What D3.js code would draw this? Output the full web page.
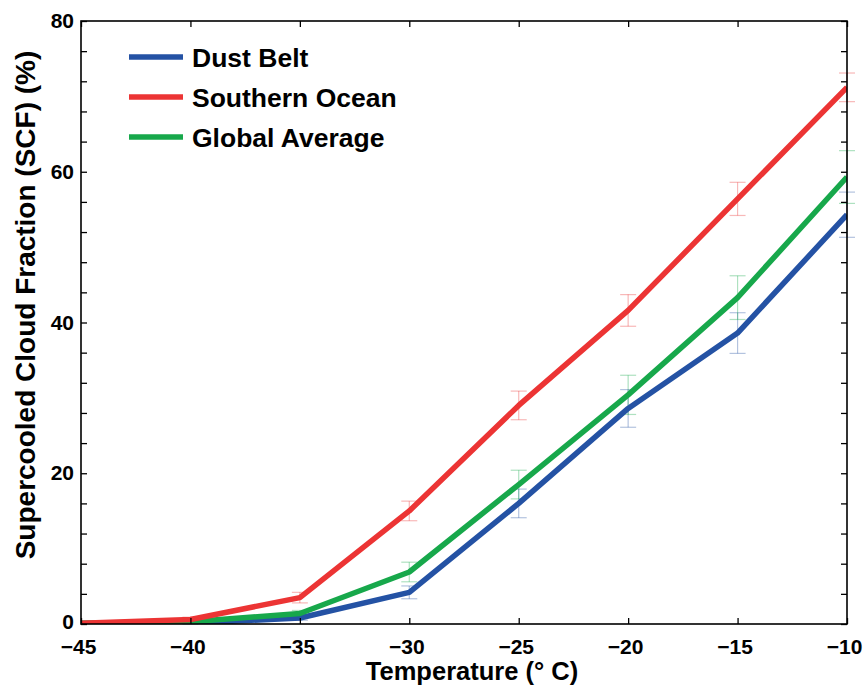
<!DOCTYPE html>
<html><head><meta charset="utf-8">
<script src="https://cdn.jsdelivr.net/npm/d3@7"></script>
<style>body{margin:0;background:#fff}text{font-family:"Liberation Sans",Arial,sans-serif;font-weight:bold}</style>
</head><body><svg id="c" width="866" height="688"></svg>
<script>
const temps = [-45, -40, -35, -30, -25, -20, -15, -10];
const dustBelt = [0.05, 0.1, 0.8, 4.2, 16.0, 28.6, 38.6, 54.3];
const southernOcean = [0.1, 0.6, 3.5, 15.0, 29.0, 41.6, 56.4, 71.2];
const globalAverage = [0.1, 0.3, 1.4, 6.9, 18.5, 30.4, 43.3, 59.3];
const dustErr = [0, 0.1, 0.3, 0.85, 1.9, 2.5, 2.7, 3.0];
const southernErr = [0, 0.3, 0.7, 1.3, 1.9, 2.1, 2.2, 1.9];
const globalErr = [0, 0.1, 0.4, 1.3, 1.9, 2.6, 2.9, 3.5];
const seriesNames = ["Dust Belt", "Southern Ocean", "Global Average"];
const xTicks = [-45, -40, -35, -30, -25, -20, -15, -10];
const yLabelTicks = [0, 20, 40, 60, 80];

const colors = ["#2452a4", "#ec3434", "#17a84b"];
const series = [
  {name: seriesNames[0], vals: dustBelt, err: dustErr, color: colors[0]},
  {name: seriesNames[1], vals: southernOcean, err: southernErr, color: colors[1]},
  {name: seriesNames[2], vals: globalAverage, err: globalErr, color: colors[2]}
];

const svg = d3.select("#c");
const L = 81, R = 847, T = 21, B = 624;
const x = d3.scaleLinear().domain([-45, -10]).range([L, R]);
const y = d3.scaleLinear().domain([0, 80]).range([B, T]);
const yMinor = d3.range(0, 81, 4);

// error bars (behind)
const eb = svg.append("g");
series.forEach(s => {
  temps.forEach((t, i) => {
    if (s.err[i] <= 0) return;
    const cx = x(t), y1 = y(s.vals[i] + s.err[i]), y2 = y(s.vals[i] - s.err[i]);
    const g = eb.append("g").attr("stroke", s.color).attr("stroke-opacity", 0.35).attr("stroke-width", 1.2);
    g.append("line").attr("x1", cx).attr("x2", cx).attr("y1", y1).attr("y2", y2);
    g.append("line").attr("x1", cx - 8).attr("x2", cx + 8).attr("y1", y1).attr("y2", y1);
    g.append("line").attr("x1", cx - 8).attr("x2", cx + 8).attr("y1", y2).attr("y2", y2);
  });
});

// lines
const line = d3.line().x((d, i) => x(temps[i])).y(d => y(d));
svg.append("defs").append("clipPath").attr("id", "clip").append("rect")
  .attr("x", L).attr("y", T - 5).attr("width", R - L).attr("height", B - T + 5);
const lg = svg.append("g").attr("clip-path", "url(#clip)");
[series[0], series[2], series[1]].forEach(s => {
  lg.append("path").datum(s.vals).attr("d", line).attr("fill", "none")
    .attr("stroke", s.color).attr("stroke-width", 5.5).attr("stroke-linejoin", "round");
});

// axes
const tickLen = 6;
const axB = svg.append("g").attr("transform", `translate(0,${B})`)
  .call(d3.axisBottom(x).tickValues(xTicks).tickSizeInner(-tickLen).tickSizeOuter(0).tickPadding(15)
    .tickFormat(d => d3.format("")(d).replace("-", "\u2212")));
const axT = svg.append("g").attr("transform", `translate(0,${T})`)
  .call(d3.axisTop(x).tickValues(xTicks).tickSizeInner(-tickLen).tickSizeOuter(0).tickFormat(""));
const axL = svg.append("g").attr("transform", `translate(${L},0)`)
  .call(d3.axisLeft(y).tickValues(yMinor).tickSizeInner(-tickLen).tickSizeOuter(0).tickPadding(7)
    .tickFormat(d => yLabelTicks.includes(d) ? d : ""));
const axR = svg.append("g").attr("transform", `translate(${R},0)`)
  .call(d3.axisRight(y).tickValues(yMinor).tickSizeInner(-tickLen).tickSizeOuter(0).tickFormat(""));
[axB, axT, axL, axR].forEach(a => {
  a.select(".domain").remove();
  a.selectAll("line").attr("stroke", "#000").attr("stroke-width", 1.3);
  a.selectAll("text").attr("font-size", 21).attr("fill", "#000")
    .style("font-family", "'Liberation Sans',Arial,sans-serif").style("font-weight", "bold");
});
axB.selectAll("text").attr("dy", "0.71em").attr("dx", "-3");
axL.selectAll(".tick").filter(d => d === 0).select("text").attr("dy", "0.2em");
svg.append("rect").attr("x", L).attr("y", T).attr("width", R - L).attr("height", B - T)
  .attr("fill", "none").attr("stroke", "#000").attr("stroke-width", 1.6);

// axis titles
svg.append("text").attr("x", 472).attr("y", 680).attr("text-anchor", "middle")
  .attr("font-size", 25.5).text("Temperature (\u00B0 C)");
svg.append("text").attr("transform", `translate(35,305) rotate(-90)`).attr("text-anchor", "middle")
  .attr("font-size", 28).text("Supercooled Cloud Fraction (SCF) (%)");

// legend
series.forEach((s, i) => {
  const ly = 57 + i * 40;
  svg.append("line").attr("x1", 129).attr("x2", 183).attr("y1", ly).attr("y2", ly)
    .attr("stroke", s.color).attr("stroke-width", 5.5);
  svg.append("text").attr("x", 192).attr("y", ly + 10).attr("font-size", 26.5).attr("fill", "#000").text(s.name);
});
</script></body></html>
